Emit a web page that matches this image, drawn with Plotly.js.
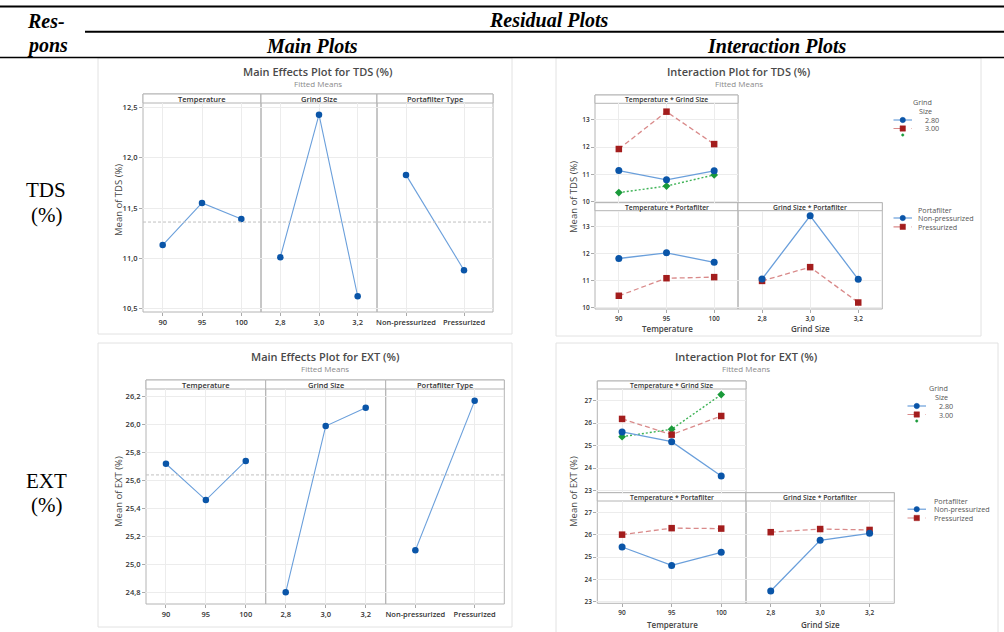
<!DOCTYPE html>
<html><head><meta charset="utf-8">
<script src="https://cdn.plot.ly/plotly-3.0.1.min.js"></script>
<style>html,body{margin:0;padding:0;background:#fff;}#chart{width:1004px;height:632px;}</style>
</head><body><div id="chart"></div>
<script>
// ---------------- DATA ----------------
const temperature = [90, 95, 100];
const grindSize = [2.8, 3.0, 3.2];
const grindTickText = ['2,8', '3,0', '3,2'];
const portafilter = ['Non-pressurized', 'Pressurized'];
const grindLegend = ['2.80', '3.00', '3.20'];
const portLegend = ['Non-pressurized', 'Pressurized'];

const tdsMainTemperature = [11.13, 11.55, 11.39];
const tdsMainGrind = [11.01, 12.43, 10.62];
const tdsMainPortafilter = [11.83, 10.88];
const tdsOverallMean = 11.36;

const extMainTemperature = [25.72, 25.46, 25.74];
const extMainGrind = [24.80, 25.99, 26.12];
const extMainPortafilter = [25.10, 26.17];
const extOverallMean = 25.64;

const tdsTempGrind280 = [11.14, 10.80, 11.13];
const tdsTempGrind300 = [11.93, 13.30, 12.11];
const tdsTempGrind320 = [10.33, 10.57, 10.98];
const tdsTempNonPress = [11.82, 12.03, 11.68];
const tdsTempPress = [10.44, 11.09, 11.13];
const tdsGrindNonPress = [11.06, 13.40, 11.05];
const tdsGrindPress = [10.99, 11.50, 10.19];

const extTempGrind280 = [25.61, 25.18, 23.65];
const extTempGrind300 = [26.19, 25.49, 26.32];
const extTempGrind320 = [25.40, 25.73, 27.27];
const extTempNonPress = [25.45, 24.63, 25.21];
const extTempPress = [26.00, 26.29, 26.27];
const extGrindNonPress = [23.49, 25.75, 26.06];
const extGrindPress = [26.11, 26.25, 26.21];

const tdsMainTicks = [10.5, 11.0, 11.5, 12.0, 12.5];
const extMainTicks = [24.8, 25.0, 25.2, 25.4, 25.6, 25.8, 26.0, 26.2];
const tdsIntTicks = [10, 11, 12, 13];
const extIntTicks = [23, 24, 25, 26, 27];

// ---------------- STYLE / LAYOUT ----------------
const W = 1004, H = 632;
const fx = p => p / W, fy = p => 1 - p / H;
const FONT = '"Open Sans", "Noto Sans", sans-serif';
const SERIF = '"Liberation Serif", "Times New Roman", serif';
const C = {
  blueM: '#0a55a8', blueL: '#6a9fdb',
  redM: '#a31d1d', redL: '#d98a8a',
  greenM: '#1a9a3a', greenL: '#3fb357'
};

const layout = {
  width: W, height: H, margin: {l: 0, r: 0, t: 0, b: 0},
  paper_bgcolor: '#ffffff', plot_bgcolor: 'rgba(0,0,0,0)',
  showlegend: false, separators: ',.',
  font: {family: FONT, color: '#333'},
  shapes: [], annotations: []
};
const traces = [];
let axN = 0;

function ann(x, y, text, size, color, extra) {
  layout.annotations.push(Object.assign({
    xref: 'paper', yref: 'paper', x: fx(x), y: fy(y), text: text, showarrow: false,
    xanchor: 'center', yanchor: 'middle', font: {family: FONT, size: size, color: color}
  }, extra || {}));
}
function rect(x0, y0, x1, y1, color, width, fill) {
  layout.shapes.push({type: 'rect', xref: 'paper', yref: 'paper', x0: fx(x0), x1: fx(x1), y0: fy(y1), y1: fy(y0),
    line: {color: color, width: width}, fillcolor: fill || 'rgba(0,0,0,0)', layer: 'below'});
}
function hline(x0, x1, y, color, width) {
  layout.shapes.push({type: 'line', xref: 'paper', yref: 'paper', x0: fx(x0), x1: fx(x1), y0: fy(y), y1: fy(y),
    line: {color: color, width: width}});
}

function panel(o) {
  axN++;
  const sfx = axN === 1 ? '' : String(axN);
  const xr = 'x' + sfx, yr = 'y' + sfx;
  const xa = {
    domain: [fx(o.x0), fx(o.x1)], anchor: yr, range: o.xRange,
    showticklabels: !!o.showX, ticks: o.showX ? 'outside' : '', ticklen: 3, tickcolor: '#aaa',
    showgrid: true, gridcolor: '#ececec', gridwidth: 1, zeroline: false, showline: false,
    tickfont: {size: o.tickSize, color: '#333', family: FONT, weight: 600}, fixedrange: true
  };
  if (o.cat) { xa.type = 'category'; }
  else { xa.type = 'linear'; xa.tickmode = 'array'; xa.tickvals = o.tickvals; if (o.ticktext) xa.ticktext = o.ticktext; }
  const ya = {
    domain: [fy(o.yBot), fy(o.yStrip)], anchor: xr, range: o.yRange,
    tickmode: 'array', tickvals: o.yTicks, tickformat: o.yFormat || '',
    showticklabels: !!o.showY, ticks: o.showY ? 'outside' : '', ticklen: 3, tickcolor: '#aaa',
    showgrid: true, gridcolor: '#ececec', gridwidth: 1, zeroline: false, showline: false,
    tickfont: {size: o.tickSize, color: '#333', family: FONT, weight: 600}, fixedrange: true
  };
  layout['xaxis' + sfx] = xa;
  layout['yaxis' + sfx] = ya;
  rect(o.x0, o.yTop, o.x1, o.yBot, '#b4b4b4', 1);
  rect(o.x0, o.yTop, o.x1, o.yStrip, '#b4b4b4', 1, '#ffffff');
  ann((o.x0 + o.x1) / 2, (o.yTop + o.yStrip) / 2 + 0.5, o.strip, o.stripSize, '#333', {font: {family: FONT, size: o.stripSize, color: '#333', weight: 600}});
  return {x: xr, y: yr};
}

function series(ax, xs, ys, kind) {
  const st = {
    main:  {line: {color: C.blueL, width: 1.1}, marker: {color: C.blueM, size: 6.5, symbol: 'circle'}},
    blue:  {line: {color: C.blueL, width: 1.3}, marker: {color: C.blueM, size: 7, symbol: 'circle'}},
    red:   {line: {color: C.redL, width: 1.3, dash: '5px,3px'}, marker: {color: C.redM, size: 6.5, symbol: 'square'}},
    green: {line: {color: C.greenL, width: 1.4, dash: '2px,2px'}, marker: {color: C.greenM, size: 6, symbol: 'diamond'}}
  }[kind];
  traces.push({type: 'scatter', mode: 'lines+markers', x: xs, y: ys, xaxis: ax.x, yaxis: ax.y,
    line: st.line, marker: st.marker, hoverinfo: 'skip', cliponaxis: false});
}

// ---------- Main Effects TDS ----------
const mt = {yTop: 94, yStrip: 103, yBot: 312, yRange: [10.463, 12.547], yTicks: tdsMainTicks, yFormat: '.1f', tickSize: 7.5, stripSize: 7.5, showX: true};
const a1 = panel(Object.assign({}, mt, {x0: 143, x1: 261, xRange: [87.5, 102.5], tickvals: temperature, showY: true, strip: 'Temperature'}));
const a2 = panel(Object.assign({}, mt, {x0: 261, x1: 377, xRange: [2.7, 3.3], tickvals: grindSize, ticktext: grindTickText, strip: 'Grind Size'}));
const a3 = panel(Object.assign({}, mt, {x0: 377, x1: 493, xRange: [-0.5, 1.5], cat: true, strip: 'Portafilter Type'}));
layout.shapes.push({type: 'line', xref: 'paper', yref: a1.y, x0: fx(143), x1: fx(493), y0: tdsOverallMean, y1: tdsOverallMean, line: {color: '#c0c0c0', width: 1, dash: '3px,2px'}});
series(a1, temperature, tdsMainTemperature, 'main');
series(a2, grindSize, tdsMainGrind, 'main');
series(a3, portafilter, tdsMainPortafilter, 'main');

// ---------- Main Effects EXT ----------
const me = {yTop: 380, yStrip: 389, yBot: 604, yRange: [24.716, 26.255], yTicks: extMainTicks, yFormat: '.1f', tickSize: 7.5, stripSize: 7.5, showX: true};
const b1 = panel(Object.assign({}, me, {x0: 146, x1: 265.7, xRange: [87.5, 102.5], tickvals: temperature, showY: true, strip: 'Temperature'}));
const b2 = panel(Object.assign({}, me, {x0: 265.7, x1: 385.7, xRange: [2.7, 3.3], tickvals: grindSize, ticktext: grindTickText, strip: 'Grind Size'}));
const b3 = panel(Object.assign({}, me, {x0: 385.7, x1: 504.3, xRange: [-0.5, 1.5], cat: true, strip: 'Portafilter Type'}));
layout.shapes.push({type: 'line', xref: 'paper', yref: b1.y, x0: fx(146), x1: fx(504.3), y0: extOverallMean, y1: extOverallMean, line: {color: '#c0c0c0', width: 1, dash: '3px,2px'}});
series(b1, temperature, extMainTemperature, 'main');
series(b2, grindSize, extMainGrind, 'main');
series(b3, portafilter, extMainPortafilter, 'main');

// ---------- Interaction TDS ----------
const it = {yTicks: tdsIntTicks, tickSize: 6.5, stripSize: 6.8};
const c1 = panel(Object.assign({}, it, {x0: 595, x1: 738, yTop: 95, yStrip: 103.3, yBot: 202.7, yRange: [9.96, 13.607], xRange: [87.5, 102.5], tickvals: temperature, showY: true, showX: false, strip: 'Temperature * Grind Size'}));
const c2 = panel(Object.assign({}, it, {x0: 595, x1: 738, yTop: 202.7, yStrip: 210.7, yBot: 309, yRange: [9.95, 13.59], xRange: [87.5, 102.5], tickvals: temperature, showY: true, showX: true, strip: 'Temperature * Portafilter'}));
const c3 = panel(Object.assign({}, it, {x0: 738, x1: 882.3, yTop: 202.7, yStrip: 210.7, yBot: 309, yRange: [9.95, 13.59], xRange: [2.7, 3.3], tickvals: grindSize, ticktext: grindTickText, showY: false, showX: true, strip: 'Grind Size * Portafilter'}));
series(c1, temperature, tdsTempGrind320, 'green');
series(c1, temperature, tdsTempGrind300, 'red');
series(c1, temperature, tdsTempGrind280, 'blue');
series(c2, temperature, tdsTempPress, 'red');
series(c2, temperature, tdsTempNonPress, 'blue');
series(c3, grindSize, tdsGrindPress, 'red');
series(c3, grindSize, tdsGrindNonPress, 'blue');

// ---------- Interaction EXT ----------
const ie = {yTicks: extIntTicks, tickSize: 6.5, stripSize: 6.8};
const d1 = panel(Object.assign({}, ie, {x0: 597.3, x1: 746, yTop: 381, yStrip: 389, yBot: 492.7, yRange: [22.91, 27.52], xRange: [87.5, 102.5], tickvals: temperature, showY: true, showX: false, strip: 'Temperature * Grind Size'}));
const d2 = panel(Object.assign({}, ie, {x0: 597.3, x1: 746, yTop: 492.7, yStrip: 501, yBot: 603.3, yRange: [22.94, 27.5], xRange: [87.5, 102.5], tickvals: temperature, showY: true, showX: true, strip: 'Temperature * Portafilter'}));
const d3 = panel(Object.assign({}, ie, {x0: 746, x1: 894.3, yTop: 492.7, yStrip: 501, yBot: 603.3, yRange: [22.94, 27.5], xRange: [2.7, 3.3], tickvals: grindSize, ticktext: grindTickText, showY: false, showX: true, strip: 'Grind Size * Portafilter'}));
series(d1, temperature, extTempGrind320, 'green');
series(d1, temperature, extTempGrind300, 'red');
series(d1, temperature, extTempGrind280, 'blue');
series(d2, temperature, extTempPress, 'red');
series(d2, temperature, extTempNonPress, 'blue');
series(d3, grindSize, extGrindPress, 'red');
series(d3, grindSize, extGrindNonPress, 'blue');

// ---------- chart image frames ----------
rect(98, 58, 512, 334, '#e2e2e2', 1);
rect(98, 343, 512, 627, '#e2e2e2', 1);
rect(556, 58, 981, 336, '#e2e2e2', 1);
rect(556, 343, 998, 640, '#e2e2e2', 1);

// ---------- chart titles ----------
const TT = '#4a4a4a', ST = '#8a8a8a';
function titles(cx, ty, sy, t) {
  ann(cx, ty, t, 11, TT, {font: {family: FONT, size: 11, color: TT, weight: 600}});
  ann(cx, sy, 'Fitted Means', 8, ST);
}
titles(318, 72, 83.5, 'Main Effects Plot for TDS (%)');
titles(325, 356, 368, 'Main Effects Plot for EXT (%)');
titles(739, 72, 83.5, 'Interaction Plot for TDS (%)');
titles(746, 356, 368.5, 'Interaction Plot for EXT (%)');

// axis titles
ann(118, 200, 'Mean of TDS (%)', 9.5, '#444', {textangle: -90});
ann(118, 492, 'Mean of EXT (%)', 9.5, '#444', {textangle: -90});
ann(573, 197, 'Mean of TDS (%)', 9.5, '#444', {textangle: -90});
ann(573, 492, 'Mean of EXT (%)', 9.5, '#444', {textangle: -90});
const XT = {family: FONT, size: 8, color: '#444', weight: 600};
ann(667, 328, 'Temperature', 8, '#444', {font: XT});
ann(810, 328, 'Grind Size', 8, '#444', {font: XT});
ann(672, 624, 'Temperature', 8, '#444', {font: XT});
ann(820, 624, 'Grind Size', 8, '#444', {font: XT});

// ---------- legends ----------
function legMark(xl, xr, y, kind) {
  const xc = (xl + xr) / 2;
  const st = {blue: [C.blueL, 'solid', C.blueM, 'circle'], red: [C.redL, 'dash', C.redM, 'square'], green: [C.greenL, 'dot', C.greenM, 'dot']}[kind];
  if (kind !== 'green') {
    layout.shapes.push({type: 'line', xref: 'paper', yref: 'paper', x0: fx(xl), x1: fx(xr), y0: fy(y), y1: fy(y), line: {color: st[0], width: 1.2, dash: st[1]}});
  }
  const r = kind === 'green' ? 1.2 : 2.7;
  layout.shapes.push({type: st[3] === 'square' ? 'rect' : 'circle', xref: 'paper', yref: 'paper',
    x0: fx(xc - r), x1: fx(xc + r), y0: fy(y + r), y1: fy(y - r), fillcolor: st[2], line: {color: st[2], width: 0.5}});
}
const LG = '#555', LS = 7.2;
function legends(o) {
  ann(o.gr, o.gy, 'Grind', LS, LG, {xanchor: 'right'});
  ann(o.gr, o.gy + 8.7, 'Size', LS, LG, {xanchor: 'right'});
  ann(o.tl, o.gy + 17.5, grindLegend[0], LS, LG, {xanchor: 'left'});
  ann(o.tl, o.gy + 26, grindLegend[1], LS, LG, {xanchor: 'left'});
  legMark(o.lx0, o.lx1, o.gy + 17.5, 'blue');
  legMark(o.lx0, o.lx1, o.gy + 26, 'red');
  legMark(o.lx0, o.lx1, o.gy + 32.5, 'green');
  ann(o.pl, o.py, 'Portafilter', LS, LG, {xanchor: 'left'});
  ann(o.pl, o.py + 8.5, portLegend[0], LS, LG, {xanchor: 'left'});
  ann(o.pl, o.py + 17.3, portLegend[1], LS, LG, {xanchor: 'left'});
  legMark(o.lx0, o.lx1, o.py + 8.5, 'blue');
  legMark(o.lx0, o.lx1, o.py + 17.3, 'red');
}
legends({gr: 934, gy: 102.5, tl: 922.5, lx0: 893.5, lx1: 912, pl: 916, py: 209.5});
legends({gr: 949.5, gy: 388.5, tl: 936.5, lx0: 907.5, lx1: 926, pl: 931.5, py: 500.7});

// ---------- table header ----------
hline(0, 1004, 6.5, '#000', 2);
hline(85, 1004, 31.8, '#000', 2);
hline(0, 1004, 57.6, '#000', 1.5);
const HF = {family: SERIF, size: 20, color: '#000', weight: 700, style: 'italic'};
ann(25, 21, 'Res-', 20, '#000', {xanchor: 'left', font: HF});
ann(25, 45.5, 'pons', 20, '#000', {xanchor: 'left', font: HF});
ann(549, 20, 'Residual Plots', 20, '#000', {font: HF});
ann(312, 45.5, 'Main Plots', 20, '#000', {font: HF});
ann(777, 45.5, 'Interaction Plots', 20, '#000', {font: HF});
const LF = {family: SERIF, size: 21, color: '#000'};
ann(46, 190.5, 'TDS', 21, '#000', {font: LF});
ann(46, 215, '(%)', 21, '#000', {font: LF});
ann(46, 480.5, 'EXT', 21, '#000', {font: LF});
ann(46, 505, '(%)', 21, '#000', {font: LF});

Plotly.newPlot('chart', traces, layout, {staticPlot: true, displayModeBar: false});
</script>
</body></html>
